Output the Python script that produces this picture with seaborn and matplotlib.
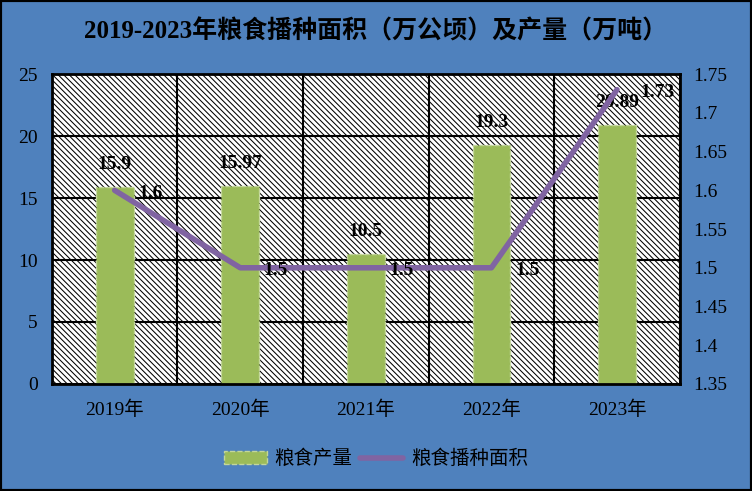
import matplotlib
matplotlib.use("Agg")
import matplotlib.pyplot as plt
import seaborn as sns
from matplotlib.patches import Rectangle, Patch
from matplotlib.lines import Line2D

years = ["2019年", "2020年", "2021年", "2022年", "2023年"]
output = [15.9, 15.97, 10.5, 19.3, 20.89]      # 粮食产量 (万吨)
area = [1.6, 1.5, 1.5, 1.5, 1.73]               # 粮食播种面积 (万公顷)
left_ticks = [0, 5, 10, 15, 20, 25]
right_ticks = [1.35, 1.4, 1.45, 1.5, 1.55, 1.6, 1.65, 1.7, 1.75]

sns.set_style("white")
plt.rcParams["font.family"] = ["Liberation Serif", "Noto Sans CJK SC"]
plt.rcParams["hatch.linewidth"] = 0.75
plt.rcParams["text.color"] = "black"
plt.rcParams["xtick.color"] = "black"
plt.rcParams["ytick.color"] = "black"

bg = "#4F81BD"
bar_c = "#9BBB59"
line_c = "#8064A2"

fig = plt.figure(figsize=(7.52, 4.91), dpi=100, facecolor=bg)
fig.patches.append(Rectangle((0, 0), 1, 1, transform=fig.transFigure,
                             fill=False, edgecolor="black", linewidth=3))
ax = fig.add_axes([0.069, 0.218, 0.835, 0.631])
ax.set_facecolor("white")
ax.add_patch(Rectangle((0, 0), 1, 1, transform=ax.transAxes, facecolor="white",
                       edgecolor="black", hatch="\\" * 6, linewidth=0, zorder=0))

sns.barplot(x=years, y=output, ax=ax, color=bar_c, width=0.3, saturation=1,
            edgecolor="#C3D69B", linestyle="--", linewidth=1, zorder=2)
ax.set_ylim(0, 25)
ax.set_yticks(left_ticks)
ax.yaxis.grid(True, color="black", linewidth=1.5)
ax.set_axisbelow(True)
ax.set_xticks([i - 0.5 for i in range(len(years) + 1)], minor=True)
ax.xaxis.grid(False, which="major")
ax.xaxis.grid(True, which="minor", color="black", linewidth=1.5)
ax.set_xlim(-0.5, len(years) - 0.5)
ax.tick_params(axis="x", which="both", length=0, labelsize=14, pad=12)
ax.tick_params(axis="y", length=0, labelsize=14, pad=10)
for s in ax.spines.values():
    s.set_color("black")
    s.set_linewidth(2)
ax.bar_label(ax.containers[0], labels=[str(v) for v in output], padding=10,
             fontsize=14, fontweight="semibold")

ax2 = ax.twinx()
sns.lineplot(x=list(range(len(years))), y=area, ax=ax2, color=line_c, linewidth=4,
             solid_capstyle="round")
ax2.set_ylim(1.35, 1.75)
ax2.set_yticks(right_ticks)
ax2.set_yticklabels([f"{t:g}" for t in right_ticks])
ax2.tick_params(axis="y", length=0, labelsize=14, pad=10)
ax2.set_xlim(-0.5, len(years) - 0.5)
for s in ax2.spines.values():
    s.set_visible(False)
for i, v in enumerate(area):
    ax2.annotate(f"{v:g}", (i, v), xytext=(17, -2), textcoords="offset points",
                 ha="left", va="center", fontsize=14, fontweight="semibold")

fig.text(0.5, 0.937, "2019-2023年粮食播种面积（万公顷）及产量（万吨）",
         ha="center", va="center", fontsize=18, fontweight="bold")

handles = [Patch(facecolor=bar_c, edgecolor="#C3D69B", linestyle="--"),
           Line2D([0], [0], color=line_c, linewidth=4)]
fig.legend(handles, ["粮食产量", "粮食播种面积"], loc="center", bbox_to_anchor=(0.5, 0.065),
           ncol=2, frameon=False, fontsize=14, handlelength=2.2, columnspacing=0.4,
           handletextpad=0.4)

fig.savefig("out.png", dpi=100, facecolor=bg)
